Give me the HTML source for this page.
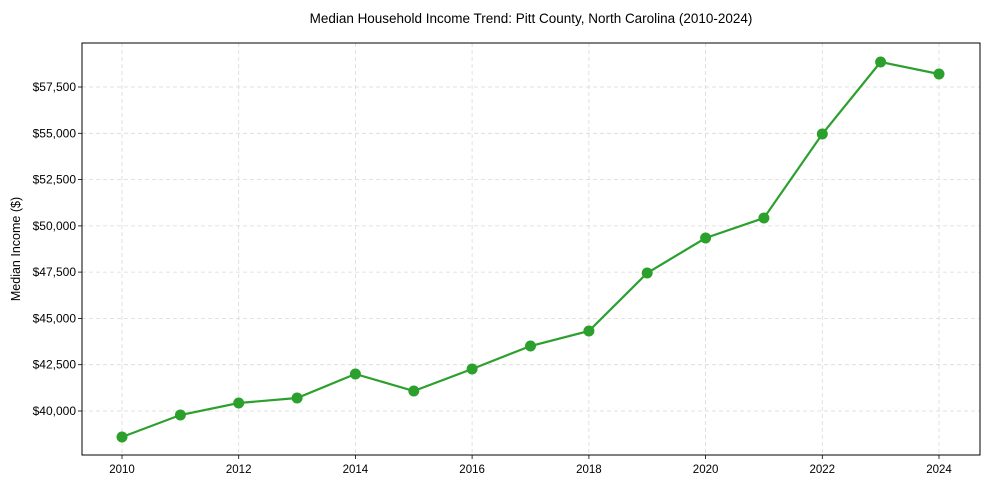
<!DOCTYPE html>
<html><head><meta charset="utf-8"><style>
body{margin:0;background:#fff;}
svg{display:block;font-family:"Liberation Sans",Arial,sans-serif;}
</style></head><body>
<svg width="989" height="490" viewBox="0 0 989 490" xmlns="http://www.w3.org/2000/svg">
<rect width="989" height="490" fill="#fff"/>
<text x="531" y="22" font-size="13.5" text-anchor="middle" fill="#000" transform="translate(531,0) scale(1,1.05) translate(-531,0)">Median Household Income Trend: Pitt County, North Carolina (2010-2024)</text>
<g stroke="#d9d9d9" stroke-width="0.8" stroke-dasharray="4,3">
<line x1="122" y1="43" x2="122" y2="455"/><line x1="238.7" y1="43" x2="238.7" y2="455"/>
<line x1="355.4" y1="43" x2="355.4" y2="455"/><line x1="472.1" y1="43" x2="472.1" y2="455"/>
<line x1="588.9" y1="43" x2="588.9" y2="455"/><line x1="705.6" y1="43" x2="705.6" y2="455"/>
<line x1="822.3" y1="43" x2="822.3" y2="455"/><line x1="939" y1="43" x2="939" y2="455"/>
<line x1="82" y1="411" x2="980" y2="411"/><line x1="82" y1="364.7" x2="980" y2="364.7"/>
<line x1="82" y1="318.4" x2="980" y2="318.4"/><line x1="82" y1="272.1" x2="980" y2="272.1"/>
<line x1="82" y1="225.9" x2="980" y2="225.9"/><line x1="82" y1="179.6" x2="980" y2="179.6"/>
<line x1="82" y1="133.3" x2="980" y2="133.3"/><line x1="82" y1="87" x2="980" y2="87"/>
</g>
<rect x="82" y="43" width="898" height="412" fill="none" stroke="#000" stroke-width="1"/>
<g stroke="#000" stroke-width="0.8">
<line x1="122" y1="455" x2="122" y2="459"/><line x1="238.7" y1="455" x2="238.7" y2="459"/>
<line x1="355.4" y1="455" x2="355.4" y2="459"/><line x1="472.1" y1="455" x2="472.1" y2="459"/>
<line x1="588.9" y1="455" x2="588.9" y2="459"/><line x1="705.6" y1="455" x2="705.6" y2="459"/>
<line x1="822.3" y1="455" x2="822.3" y2="459"/><line x1="939" y1="455" x2="939" y2="459"/>
<line x1="78" y1="411" x2="82" y2="411"/><line x1="78" y1="364.7" x2="82" y2="364.7"/>
<line x1="78" y1="318.4" x2="82" y2="318.4"/><line x1="78" y1="272.1" x2="82" y2="272.1"/>
<line x1="78" y1="225.9" x2="82" y2="225.9"/><line x1="78" y1="179.6" x2="82" y2="179.6"/>
<line x1="78" y1="133.3" x2="82" y2="133.3"/><line x1="78" y1="87" x2="82" y2="87"/>
</g>
<g font-size="11.5" text-anchor="middle" fill="#000">
<text x="122" y="473">2010</text><text x="238.7" y="473">2012</text><text x="355.4" y="473">2014</text>
<text x="472.1" y="473">2016</text><text x="588.9" y="473">2018</text><text x="705.6" y="473">2020</text>
<text x="822.3" y="473">2022</text><text x="939" y="473">2024</text>
</g>
<g font-size="12" text-anchor="end" fill="#000">
<text x="76" y="415">$40,000</text><text x="76" y="368.7">$42,500</text><text x="76" y="322.4">$45,000</text>
<text x="76" y="276.1">$47,500</text><text x="76" y="229.9">$50,000</text><text x="76" y="183.6">$52,500</text>
<text x="76" y="137.3">$55,000</text><text x="76" y="91">$57,500</text>
</g>
<text transform="translate(20,249) rotate(-90)" font-size="12.5" text-anchor="middle">Median Income ($)</text>
<g fill="#2ca02c">
<polyline fill="none" stroke="#2ca02c" stroke-width="2.2" points="122,437 180.4,415 238.7,403 297.1,398 355.4,374 413.8,391 472.1,369 530.5,346 588.9,331 647.2,273 705.6,238 763.9,218 822.3,134 880.6,62 939,74"/>
<circle cx="122" cy="437" r="5.5"/><circle cx="180.4" cy="415" r="5.5"/><circle cx="238.7" cy="403" r="5.5"/>
<circle cx="297.1" cy="398" r="5.5"/><circle cx="355.4" cy="374" r="5.5"/><circle cx="413.8" cy="391" r="5.5"/>
<circle cx="472.1" cy="369" r="5.5"/><circle cx="530.5" cy="346" r="5.5"/><circle cx="588.9" cy="331" r="5.5"/>
<circle cx="647.2" cy="273" r="5.5"/><circle cx="705.6" cy="238" r="5.5"/><circle cx="763.9" cy="218" r="5.5"/>
<circle cx="822.3" cy="134" r="5.5"/><circle cx="880.6" cy="62" r="5.5"/><circle cx="939" cy="74" r="5.5"/>
</g>
</svg>
</body></html>
